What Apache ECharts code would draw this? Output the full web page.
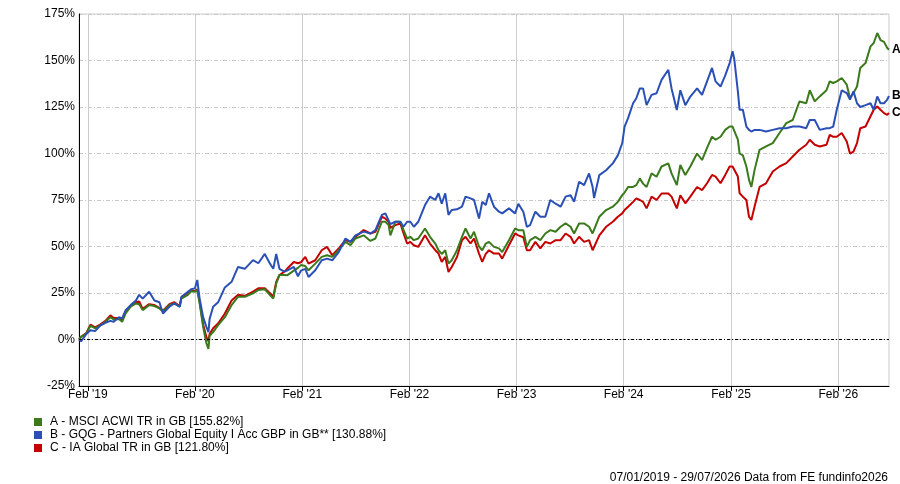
<!DOCTYPE html>
<html>
<head>
<meta charset="utf-8">
<script src="https://cdn.jsdelivr.net/npm/echarts@6/dist/echarts.min.js"></script>
<style>
html,body{margin:0;padding:0;background:#fff;}
#chart{width:900px;height:484px;}
</style>
</head>
<body>
<div id="chart"></div>
<script>
const dates = [
'2019-01-07','2019-01-14','2019-02-01','2019-02-15','2019-03-03','2019-03-20','2019-04-07','2019-04-24','2019-05-05','2019-05-23','2019-06-03','2019-06-15','2019-07-02','2019-07-20','2019-07-31','2019-08-12','2019-09-03','2019-09-21','2019-10-08','2019-10-20','2019-11-11','2019-11-28','2019-12-16','2019-12-22',
'2020-01-13','2020-01-24','2020-02-06','2020-02-14','2020-02-22','2020-03-05','2020-03-16','2020-03-23','2020-03-27','2020-04-08','2020-04-25','2020-05-18','2020-06-10','2020-07-02','2020-07-25','2020-08-22','2020-09-09','2020-10-01','2020-10-18','2020-10-30','2020-11-09','2020-11-20','2020-12-07','2020-12-16',
'2021-01-08','2021-01-22','2021-02-01','2021-02-16','2021-02-27','2021-03-22','2021-04-13','2021-05-01','2021-05-19','2021-06-10','2021-07-03','2021-07-20','2021-08-06','2021-09-03','2021-09-26','2021-10-13','2021-11-04','2021-11-16','2021-11-27','2021-12-03','2021-12-20',
'2022-01-06','2022-01-17','2022-01-29','2022-02-09','2022-02-21','2022-03-08','2022-03-31','2022-04-17','2022-05-05','2022-05-16','2022-05-27','2022-06-08','2022-06-19','2022-06-30','2022-07-18','2022-08-04','2022-08-16','2022-09-02','2022-09-14','2022-10-01','2022-10-12','2022-10-24','2022-11-04','2022-11-21','2022-12-08','2022-12-19',
'2023-01-11','2023-02-01','2023-02-12','2023-03-01','2023-03-13','2023-03-24','2023-04-11','2023-04-28','2023-05-15','2023-06-01','2023-06-19','2023-07-06','2023-07-23','2023-08-09','2023-08-21','2023-09-07','2023-09-24','2023-10-11','2023-10-23','2023-10-28','2023-11-15','2023-12-08','2023-12-31',
'2024-01-17','2024-02-01','2024-02-09','2024-02-21','2024-03-09','2024-03-20','2024-04-01','2024-04-12','2024-04-24','2024-05-11','2024-05-28','2024-06-14','2024-07-07','2024-07-18','2024-08-05','2024-08-17','2024-09-03','2024-09-20','2024-10-13','2024-10-30','2024-11-16','2024-12-03','2024-12-15',
'2025-01-01','2025-01-17','2025-02-01','2025-02-11','2025-02-17','2025-03-01','2025-03-07','2025-03-18','2025-03-30','2025-04-08','2025-04-16','2025-04-27','2025-05-14','2025-06-05','2025-06-28','2025-07-21','2025-08-13','2025-09-04','2025-09-27','2025-10-20','2025-11-01','2025-11-18','2025-12-05','2025-12-28',
'2026-01-08','2026-01-20','2026-02-01','2026-02-18','2026-03-07','2026-03-18','2026-03-30','2026-04-11','2026-04-22','2026-05-10','2026-05-27','2026-06-07','2026-06-19','2026-06-30','2026-07-12','2026-07-23','2026-07-29'
];

const msciAcwi = [
0,1.5,3,7.5,6,7.5,9.5,12,10.8,11,9.5,14,17.6,19.4,19,15.8,18.5,18,16.7,15,18.5,19.4,17.6,22,
24,26,25.7,26.5,19.4,6.8,-2,-5,2,4,7.7,12,18.5,23,23,24.8,26.6,27,24,22,30,34.7,34.7,34.5,
37,38.5,40,39.5,37.2,40.8,44.4,45.3,44.4,48,52.5,50.7,54.3,56,53,54.3,63.3,63.3,61.5,56,63.3,
63.3,58.8,54.3,55.2,53.4,54.3,59.7,55.2,51.6,48,46,48,40.8,42.6,48,55.2,59.7,54.3,57.9,50,48,51.6,52.5,49.8,49,47,
53.4,59.7,58.8,58.8,49.8,53.4,55.2,53.4,57,58.8,57.9,60.6,62.4,60.6,57,62.4,62.4,60.6,57,57,66,69.6,71.4,
74,77.6,79,82,82,83,86.6,83.8,82,89.3,87.5,93,94.7,89.3,83,93.8,88.4,93,100,96.5,103,109,107.4,
109,112.7,114.5,114.5,114.5,107.4,100,99,93,85.8,82,91.2,102,103.8,105.6,111,116.3,118,128,127,134,128,130.7,134,
138.8,137.9,138.8,140.6,137,129.8,132.5,136,146,148.6,157.6,159.4,164.8,161,160,156.7,155.82
];

const gqgGlobal = [
0,-1,3,5,4.5,7.5,9,10,9.5,12,11.3,15.8,18.5,21,24,22,25.7,21,20,14,17.6,19.4,17.6,23,
25.7,27,27.5,32,22,12,6.8,4,11,17.6,20,28,31,39,38,42.7,41,46,41,38,46,38,36.5,37,
39,34,37,38,33.6,37.2,42.6,43.5,42.6,47,54.3,52.5,56,58,57,58.8,67,67.8,64,62,63.3,
63.3,60.6,63.3,63.3,60.6,63.3,72.3,76.8,75,78.6,73,78.6,67,69.6,70,71.4,76.8,75.9,75,65,74,72.3,78.6,71.4,68.7,67.8,
70.5,67.8,73,68.7,60.6,61.5,68.7,66,66,75,73,71.4,76.8,77.6,74,84.8,83,89.3,82,76,88.4,91,94.7,
99,105.5,114.5,119,127,129.7,135,135,126,131.5,132.4,139.6,145,135,123.4,134,126,130.6,135,131.5,138.8,146,138.8,
136,142,148.6,155,150.5,133.4,123.5,123.5,114.5,112.7,111.8,112.7,112.7,111.8,112.7,113.6,113.6,114.5,114.5,113.6,118,118,112.7,113.6,
113.6,114.5,123.5,134,132.5,129,133.4,127,125,126,127,123.5,130.7,127,127,129,130.88
];

const iaGlobal = [
0,1.5,3.5,8,6.5,8,10,13,11.5,11.5,10.5,15,18,20,20.5,16.5,19,18.5,17,15.5,19,20,18,22.5,
24.5,26.5,26,27,20.5,8,1.4,-1,3,6,8.6,14,21,24,23.5,25.7,27.5,27.5,25,23,31,34.7,36.5,38,
41.7,41,41.5,44.4,40.8,42.6,48,49.8,45.3,49,53.4,52.5,55.2,58.8,57,57.9,66,65,63.3,60,61.5,
62.4,57,51.6,52.5,50.7,49.8,56,51.6,48,46.2,41.7,44.4,36.3,39,44.4,53.4,55.2,51.6,54.3,46.2,41.7,46,48,46.2,46.2,43.5,
50.7,57,56,55,48,48,52.5,49,52.5,51.6,53.4,53.4,57,55.2,51.6,55.2,52.5,53.4,48,47,56,60.6,63.3,
66,67.8,69.6,71.4,74,75.9,75,74,70.5,76.8,75,78.5,78.5,76.8,70.5,77.6,73.2,76.8,82,80.3,84,88.5,87.6,
84,88.5,93,93,92,87.6,78.6,76.8,75,66,64.3,71.5,82,84,90.3,93,94.8,98.4,102,104.7,107.4,104.7,103.8,104.7,
110,109,109,111,106.5,100,101,105.6,113.6,114.5,120,123.5,125.3,123.5,121.7,120.8,121.8
];

const seriesNames = [
'A - MSCI ACWI TR in GB [155.82%]',
'B - GQG - Partners Global Equity I Acc GBP in GB** [130.88%]',
'C - IA Global TR in GB [121.80%]'
];
const endTags = ['A','B','C'];
const tickDates = ['2019-02-06','2020-02-06','2021-02-06','2022-02-06','2023-02-06','2024-02-06','2025-02-06','2026-02-06'];
const tickLabels = ["Feb '19","Feb '20","Feb '21","Feb '22","Feb '23","Feb '24","Feb '25","Feb '26"];
const yTicks = { min: -25, max: 175, step: 25 };
const dateRange = ['2019-01-07', '2026-07-29'];
const footnote = '07/01/2019 - 29/07/2026 Data from FE fundinfo2026';

function toTs(s){ const p = s.split('-').map(Number); return new Date(p[0], p[1]-1, p[2]).getTime(); }
const tickTs = tickDates.map(toTs);

const FONT = 'Arial, "Liberation Sans", sans-serif';
const colors = ['#3b7a1c', '#2a50b6', '#c40000'];
const valueSets = [msciAcwi, gqgGlobal, iaGlobal];

function mkSeries(i){
  return {
    name: seriesNames[i],
    type: 'line',
    data: dates.map((d, k) => [toTs(d), valueSets[i][k]]),
    showSymbol: false,
    symbol: 'none',
    lineStyle: { width: 2, color: colors[i] },
    itemStyle: { color: colors[i] },
    z: 3,
    endLabel: {
      show: true,
      formatter: () => endTags[i],
      color: '#000',
      fontWeight: 'bold',
      fontSize: 12,
      fontFamily: FONT,
      distance: 3
    },
    emphasis: { disabled: true }
  };
}

const seriesList = [mkSeries(2), mkSeries(0), mkSeries(1)];
seriesList[0].markLine = {
  silent: true,
  symbol: ['none','none'],
  label: { show: false },
  lineStyle: { color: '#000', type: [3,2,1,2], width: 1 },
  data: [{ yAxis: 0 }]
};

const chart = echarts.init(document.getElementById('chart'), null, { renderer: 'canvas' });
chart.setOption({
  animation: false,
  backgroundColor: '#fff',
  textStyle: { fontFamily: FONT },
  grid: { left: 79, top: 14, right: 11, bottom: 98, show: true, borderColor: '#cccccc', borderWidth: 1, containLabel: false },
  xAxis: {
    type: 'value',
    min: toTs(dateRange[0]),
    max: toTs(dateRange[1]),
    axisLine: { show: true, onZero: false, lineStyle: { color: '#000', width: 1 } },
    axisTick: { show: true, customValues: tickTs, length: 5, lineStyle: { color: '#000' } },
    axisLabel: {
      customValues: tickTs,
      color: '#000', fontSize: 12, fontFamily: FONT, margin: 3,
      formatter: function (v) {
        const idx = tickTs.indexOf(v);
        return idx >= 0 ? tickLabels[idx] : '';
      }
    },
    splitLine: { show: true, lineStyle: { color: '#cccccc', width: 1, type: 'solid' } }
  },
  yAxis: {
    type: 'value',
    min: yTicks.min, max: yTicks.max, interval: yTicks.step,
    axisLine: { show: true, lineStyle: { color: '#000', width: 1 } },
    axisTick: { show: false },
    axisLabel: { color: '#000', fontSize: 12, fontFamily: FONT, margin: 4, formatter: '{value}%' },
    splitLine: { show: true, lineStyle: { color: '#c8c8c8', width: 1, type: [4,2,1,2] } }
  },
  legend: {
    show: true,
    orient: 'vertical',
    left: 34,
    top: 416,
    padding: 0,
    itemWidth: 8,
    itemHeight: 8,
    itemGap: 1,
    icon: 'rect',
    selectedMode: false,
    data: seriesNames,
    textStyle: { color: '#000', fontSize: 12, fontFamily: FONT, padding: [0,0,0,3] }
  },
  graphic: [{
    type: 'text',
    right: 12,
    top: 472,
    style: { text: footnote, fill: '#000', font: '12px ' + FONT }
  }],
  series: seriesList
});
</script>
</body>
</html>
